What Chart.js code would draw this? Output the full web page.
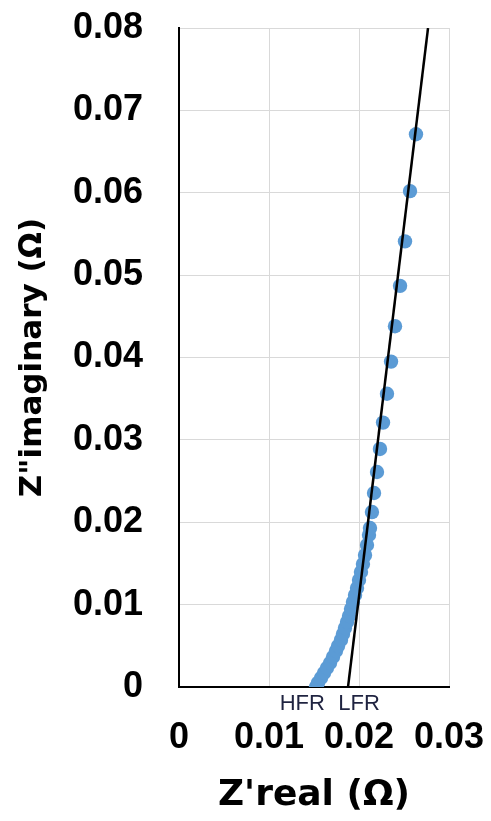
<!DOCTYPE html>
<html>
<head>
<meta charset="utf-8">
<script src="https://cdn.jsdelivr.net/npm/chart.js@4/dist/chart.umd.min.js"></script>
<style>
  html, body { margin: 0; padding: 0; background: #fff; }
  #wrap { width: 491px; height: 821px; }
</style>
</head>
<body>
<div id="wrap"><canvas id="nyquist" width="491" height="821"></canvas></div>
<script>
/* measured impedance points (ohm) */
const zReal = [
  0.01522, 0.01544, 0.01578, 0.01611, 0.01644, 0.01678, 0.01711, 0.01744,
  0.01767, 0.01800, 0.01822, 0.01844, 0.01867, 0.01889, 0.01911, 0.01933,
  0.01956, 0.01978, 0.02000, 0.02022, 0.02044, 0.02067, 0.02089, 0.02111,
  0.02122, 0.02144, 0.02167, 0.02200, 0.02233, 0.02267, 0.02311, 0.02356,
  0.02400, 0.02456, 0.02511, 0.02567, 0.02633
];
const zImag = [
  0.00000, 0.00049, 0.00109, 0.00170, 0.00231, 0.00291, 0.00364, 0.00437,
  0.00498, 0.00571, 0.00643, 0.00716, 0.00789, 0.00862, 0.00947, 0.01032,
  0.01117, 0.01202, 0.01299, 0.01396, 0.01493, 0.01602, 0.01724, 0.01845,
  0.01930, 0.02124, 0.02355, 0.02610, 0.02890, 0.03210, 0.03560, 0.03950,
  0.04380, 0.04870, 0.05410, 0.06020, 0.06710
];

/* linear fit through the low-frequency branch */
const fitReal = [0.01878, 0.02767];
const fitImag = [0.0, 0.08];

/* tick labels */
const xTickLabels = ['0', '0.01', '0.02', '0.03'];
const yTickLabels = ['0', '0.01', '0.02', '0.03', '0.04', '0.05', '0.06', '0.07', '0.08'];

/* HFR / LFR marks under the axis */
const markLabels = ['HFR', 'LFR'];
const markReal = [0.0137, 0.0200];

const points = zReal.map((x, i) => ({ x: x, y: zImag[i] }));
const fitLine = fitReal.map((x, i) => ({ x: x, y: fitImag[i] }));

// text under the x axis
const markPlugin = {
  id: 'marks',
  afterDraw(chart) {
    const ctx = chart.ctx;
    const xs = chart.scales.x;
    ctx.save();
    ctx.font = '22px "Liberation Sans", Arial, sans-serif';
    ctx.fillStyle = '#1f2340';
    ctx.textAlign = 'center';
    ctx.textBaseline = 'middle';
    for (let i = 0; i < markLabels.length; i++) {
      ctx.fillText(markLabels[i], xs.getPixelForValue(markReal[i]), chart.chartArea.bottom + 17);
    }
    ctx.restore();
  }
};

const tickFont = { family: 'Liberation Sans', size: 36, weight: 'bold' };

new Chart(document.getElementById('nyquist').getContext('2d'), {
  type: 'scatter',
  data: {
    datasets: [
      {
        data: fitLine,
        showLine: true,
        borderColor: '#000',
        borderWidth: 2.5,
        pointRadius: 0,
        order: 0
      },
      {
        data: points,
        backgroundColor: '#5B9BD5',
        borderColor: '#5B9BD5',
        borderWidth: 0,
        pointRadius: 7.2,
        order: 1
      }
    ]
  },
  options: {
    responsive: false,
    animation: false,
    plugins: { legend: { display: false }, tooltip: { enabled: false } },
    layout: { padding: { top: 28, right: 42, left: 0, bottom: 0 } },
    scales: {
      x: {
        type: 'linear',
        min: 0, max: 0.03,
        afterFit(s) {
          s.height = 134;
          s.paddingLeft = 0; s.paddingRight = 0;
        },
        ticks: {
          stepSize: 0.01,
          padding: 29,
          color: '#000',
          font: tickFont,
          maxRotation: 0,
          callback: (v, i) => xTickLabels[i]
        },
        grid: { color: '#d9d9d9', lineWidth: 1, drawTicks: false },
        border: { color: '#000', width: 2 },
        title: {
          display: true,
          text: "Z'real (Ω)",
          color: '#000',
          font: { family: 'DejaVu Sans', size: 36, weight: 'bold' },
          padding: { top: 0, bottom: 4 }
        }
      },
      y: {
        type: 'linear',
        min: 0, max: 0.08,
        afterFit(s) {
          s.width = 179;
          s.paddingTop = 0; s.paddingBottom = 0;
        },
        ticks: {
          stepSize: 0.01,
          padding: 36,
          color: '#000',
          font: tickFont,
          callback: (v, i) => yTickLabels[i]
        },
        grid: { color: '#d9d9d9', lineWidth: 1, drawTicks: false },
        border: { color: '#000', width: 2 },
        title: {
          display: true,
          text: 'Z"imaginary (Ω)',
          color: '#000',
          font: { family: 'DejaVu Sans', size: 31, weight: 'bold' },
          padding: { top: 14, bottom: 0 }
        }
      }
    }
  },
  plugins: [markPlugin]
});
</script>
</body>
</html>
